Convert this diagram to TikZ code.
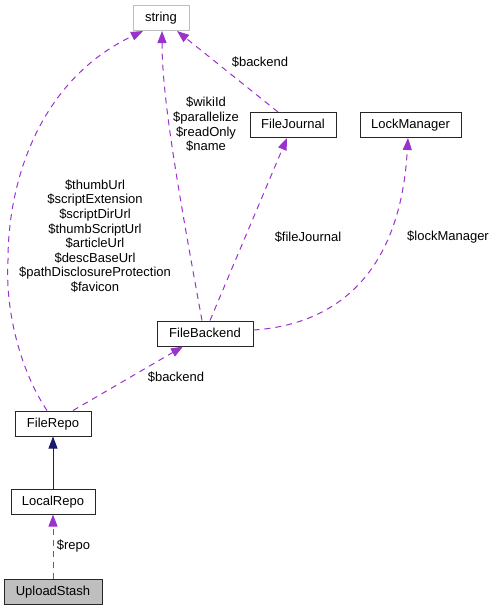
\documentclass[tikz,border=0pt]{standalone}
\usepackage{fontspec}
\setmainfont{Liberation Sans}
\usetikzlibrary{arrows.meta,calc}
\definecolor{edgepurple}{HTML}{9A32CD}
\definecolor{edgenavy}{HTML}{191970}
\definecolor{boxgray}{HTML}{BFBFBF}
\begin{document}
\begin{tikzpicture}[x=1pt,y=-1pt,
  font=\fontsize{13}{14.6}\selectfont,
  cls/.style={draw=black!85, line width=1pt, inner sep=0pt, minimum height=25pt,
    text height=9.5pt, text depth=2.5pt, text=black},
  usage/.style={draw=edgepurple, line width=1pt, dash pattern=on 6pt off 5pt,
    -{Triangle[length=12pt,width=9pt,fill=edgepurple]}},
  inherit/.style={draw=edgenavy, line width=1pt,
    -{Triangle[length=12pt,width=9pt,fill=edgenavy]}},
  lbl/.style={align=center, inner sep=0pt, text=black}]
\useasboundingbox (0,0) rectangle (495,611);

\node[cls, draw=boxgray, minimum width=56pt] (string) at (161,18) {string};
\node[cls, minimum width=86pt] (FileJournal) at (293,125) {FileJournal};
\node[cls, minimum width=101pt] (LockManager) at (410.5,125) {LockManager};
\node[cls, minimum width=96pt] (FileBackend) at (205,333.5) {FileBackend};
\node[cls, minimum width=76pt] (FileRepo) at (53,423.5) {FileRepo};
\node[cls, minimum width=84pt] (LocalRepo) at (53,501.5) {LocalRepo};
\node[cls, fill=boxgray, minimum width=98pt] (UploadStash) at (53,591.5) {UploadStash};

% FileRepo -> string
\draw[usage] ($(FileRepo.north)+(-6,0)$) .. controls (20,370) and (5,310) .. (8,260)
  .. controls (8,180) and (40,80) .. ($(string.south)+(-18,0)$);
\node[lbl] (lblrepo) at (95,236) {\$thumbUrl\\\$scriptExtension\\\$scriptDirUrl\\\$thumbScriptUrl\\\$articleUrl\\\$descBaseUrl\\\$pathDisclosureProtection\\\$favicon};

% FileBackend -> string
\draw[usage] ($(FileBackend.north)+(-3,0)$) .. controls (180,200) and (162,100) .. ($(string.south)+(1,0)$);
\node[lbl] (lblbackend) at (206,124.5) {\$wikiId\\\$parallelize\\\$readOnly\\\$name};

% FileJournal -> string
\draw[usage] ($(FileJournal.north)+(-15,0)$) -- ($(string.south)+(16,0)$);
\node[lbl] (lbljournal) at (260,62) {\$backend};

% FileBackend -> FileJournal
\draw[usage] ($(FileBackend.north)+(5,0)$) -- ($(FileJournal.south)+(-6,0)$);
\node[lbl] (lblfj) at (308,237) {\$fileJournal};

% FileBackend -> LockManager
\draw[usage] ($(FileBackend.east)+(0,-3.5)$) .. controls (330,325) and (400,280) .. ($(LockManager.south)+(-2.5,0)$);
\node[lbl] (lbllm) at (448,237) {\$lockManager};

% FileRepo -> FileBackend
\draw[usage] ($(FileRepo.north)+(20,0)$) -- ($(FileBackend.south)+(-22,0)$);
\node[lbl] (lblfb) at (176,377) {\$backend};

% LocalRepo -> FileRepo
\draw[inherit] (LocalRepo) -- (FileRepo);

% UploadStash -> LocalRepo
\draw[usage] (UploadStash) -- (LocalRepo);
\node[lbl] (lblstash) at (73.5,546) {\$repo};
\end{tikzpicture}
\end{document}
